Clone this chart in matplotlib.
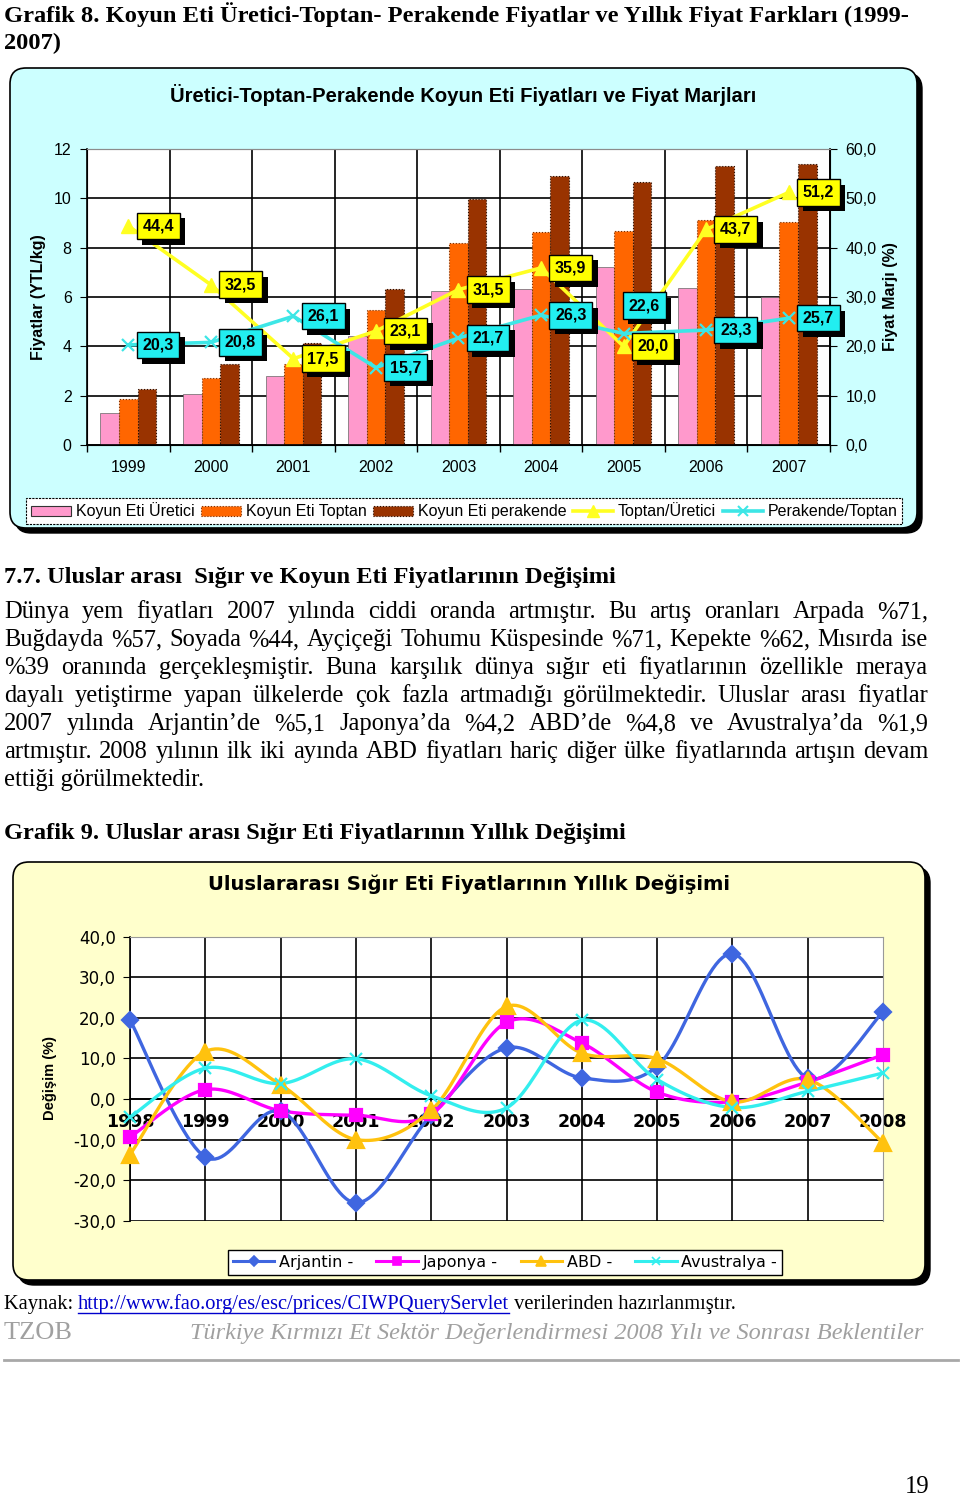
import numpy as np
import matplotlib
matplotlib.use("Agg")
import matplotlib.pyplot as plt
import matplotlib.patheffects as pe
from matplotlib.patches import FancyBboxPatch, Patch
from matplotlib.lines import Line2D
from matplotlib.transforms import offset_copy
from matplotlib.ticker import FuncFormatter

plt.rcParams['font.family'] = ['Liberation Sans', 'DejaVu Sans']

W, H = 960, 1497

# Grafik 8: koyun eti fiyatlari (YTL/kg) ve marjlar (%)
years8 = ["1999", "2000", "2001", "2002", "2003", "2004", "2005", "2006", "2007"]
uretici = [1.30, 2.05, 2.80, 4.42, 6.24, 6.34, 7.23, 6.38, 5.99]
toptan = [1.88, 2.70, 3.29, 5.47, 8.20, 8.63, 8.69, 9.12, 9.03]
perakende = [2.29, 3.27, 4.15, 6.33, 9.96, 10.92, 10.65, 11.31, 11.40]
toptan_uretici = [44.4, 32.5, 17.5, 23.1, 31.5, 35.9, 20.0, 43.7, 51.2]
perakende_toptan = [20.3, 20.8, 26.1, 15.7, 21.7, 26.3, 22.6, 23.3, 25.7]
legend8 = ["Koyun Eti Üretici", "Koyun Eti Toptan", "Koyun Eti perakende",
           "Toptan/Üretici", "Perakende/Toptan"]

# Grafik 9: uluslararasi sigir eti fiyat degisimi (%)
years9 = [1998, 1999, 2000, 2001, 2002, 2003, 2004, 2005, 2006, 2007, 2008]
arjantin = [19.5, -14.3, -3.0, -25.6, -4.0, 12.6, 5.2, 8.0, 35.8, 5.1, 21.4]
japonya = [-9.4, 2.3, -2.9, -4.0, -3.8, 18.9, 13.8, 1.7, -0.7, 4.2, 10.9]
abd = [-13.7, 11.7, 3.5, -10.0, -2.8, 22.8, 11.3, 9.9, -0.7, 4.8, -10.8]
avustralya = [-4.5, 7.6, 3.8, 9.9, 0.8, -2.2, 19.4, 4.8, -2.1, 1.9, 6.4]
legend9 = ["Arjantin -", "Japonya -", "ABD -", "Avustralya -"]

body = [
    "Dünya yem fiyatları 2007 yılında ciddi oranda artmıştır. Bu artış oranları Arpada %71,",
    "Buğdayda %57, Soyada %44, Ayçiçeği Tohumu Küspesinde %71, Kepekte %62, Mısırda ise",
    "%39 oranında gerçekleşmiştir. Buna karşılık dünya sığır eti fiyatlarının özellikle meraya",
    "dayalı yetiştirme yapan ülkelerde çok fazla artmadığı görülmektedir. Uluslar arası fiyatlar",
    "2007 yılında Arjantin’de %5,1 Japonya’da %4,2 ABD’de %4,8 ve Avustralya’da %1,9",
    "artmıştır. 2008 yılının ilk iki ayında ABD fiyatları hariç diğer ülke fiyatlarında artışın devam",
    "ettiği görülmektedir.",
]

fig = plt.figure(figsize=(W / 100, H / 100), dpi=100)
bg = fig.add_axes([0, 0, 1, 1])
bg.set_xlim(0, W)
bg.set_ylim(H, 0)
bg.axis('off')
r = fig.canvas.get_renderer()
SERIF = 'Liberation Serif'


def rect(l, t, rr, b):
    return [l / W, 1 - b / H, (rr - l) / W, (b - t) / H]


def frame(l, t, rr, b, fc):
    style = "round,pad=0,rounding_size=16"
    bg.add_patch(FancyBboxPatch((l + 5, t + 5), rr - l, b - t, boxstyle=style,
                                fc='black', ec='black', lw=1))
    bg.add_patch(FancyBboxPatch((l, t), rr - l, b - t, boxstyle=style,
                                fc=fc, ec='black', lw=1.2))


def fit(x, y, s, width, **kw):
    t = bg.text(x, y, s, fontsize=10, va='center', ha='left', **kw)
    w = t.get_window_extent(r).width
    t.set_fontsize(10 * width / w)
    return t


def justify(y, line, size, x0=4, x1=928):
    words = line.split(' ')
    ts = [bg.text(0, y, w, fontsize=size, family=SERIF, va='center') for w in words]
    ws = [t.get_window_extent(r).width for t in ts]
    gap = (x1 - x0 - sum(ws)) / (len(words) - 1)
    x = x0
    for t, w in zip(ts, ws):
        t.set_x(x)
        x += w + gap


def smooth(xs, ys, n=24):
    p = np.column_stack([xs, ys]).astype(float)
    ext = np.vstack([p[0], p, p[-1]])
    out = []
    t = np.linspace(0, 1, n)[:, None]
    for i in range(len(p) - 1):
        p0, p1, p2, p3 = ext[i], ext[i + 1], ext[i + 2], ext[i + 3]
        c1 = p1 + (p2 - p0) / 6
        c2 = p2 - (p3 - p1) / 6
        seg = (1 - t) ** 3 * p1 + 3 * (1 - t) ** 2 * t * c1 + 3 * (1 - t) * t ** 2 * c2 + t ** 3 * p2
        out.append(seg if i == 0 else seg[1:])
    pts = np.vstack(out)
    return pts[:, 0], pts[:, 1]


comma = FuncFormatter(lambda v, p: f"{v:.1f}".replace('.', ','))

# ---------------- page text ----------------
fit(4, 15, "Grafik 8. Koyun Eti Üretici-Toptan- Perakende Fiyatlar ve Yıllık Fiyat Farkları (1999-",
    908, family=SERIF, weight='bold')
head_size = bg.texts[-1].get_fontsize()
bg.text(4, 43, "2007)", fontsize=head_size, family=SERIF, weight='bold', va='center')

fit(4, 578, "7.7. Uluslar arası  Sığır ve Koyun Eti Fiyatlarının Değişimi", 612,
    family=SERIF, weight='bold')

tmp = fit(4, 780, body[-1], 200, family=SERIF)
body_size = tmp.get_fontsize()
tmp.remove()
for i, line in enumerate(body[:-1]):
    justify(612 + 28 * i, line, body_size)
bg.text(4, 780, body[-1], fontsize=body_size, family=SERIF, va='center')

fit(4, 833, "Grafik 9. Uluslar arası Sığır Eti Fiyatlarının Yıllık Değişimi", 623,
    family=SERIF, weight='bold')

# kaynak line
src = ["Kaynak: ", "http://www.fao.org/es/esc/prices/CIWPQueryServlet", " verilerinden hazırlanmıştır."]
tmp = fit(4, 1304, "".join(src), 731, family=SERIF)
src_size = tmp.get_fontsize()
tmp.remove()
x = 4
for k, s in enumerate(src):
    col = '#0000CC' if k == 1 else 'black'
    t = bg.text(x, 1304, s, fontsize=src_size, family=SERIF, va='center', color=col)
    w = t.get_window_extent(r).width
    if k == 1:
        bg.plot([x, x + w], [1313, 1313], color=col, lw=1)
    x += w

fit(4, 1333, "TZOB", 69, family=SERIF, color='#a0a0a0')
fit(190, 1334, "Türkiye Kırmızı Et Sektör Değerlendirmesi 2008 Yılı ve Sonrası Beklentiler", 735,
    family=SERIF, style='italic', color='#a0a0a0')
bg.plot([4, 958], [1360, 1360], color='#a8a8a8', lw=2)
fit(905, 1487, "19", 25, family=SERIF)

# ---------------- Grafik 8 ----------------
frame(10, 68, 917, 528, '#CCFFFF')
fit(170, 95, "Üretici-Toptan-Perakende Koyun Eti Fiyatları ve Fiyat Marjları", 588, weight='bold')
bg.text(38, 297, "Fiyatlar (YTL/kg)", rotation=90, fontsize=11.5, weight='bold', ha='center', va='center')
bg.text(890, 297, "Fiyat Marjı (%)", rotation=90, fontsize=11.5, weight='bold', ha='center', va='center')

ax = fig.add_axes(rect(87, 149, 830, 445))
ax.set_facecolor('white')
xs = np.arange(len(years8))
bw = 0.225
ax.bar(xs - bw, uretici, bw, color='#FF99CC', edgecolor='#666666', lw=0.5)
ax.bar(xs, toptan, bw, color='#FF6600', edgecolor='#7a2e00', lw=0.8, ls=':')
ax.bar(xs + bw, perakende, bw, color='#993300', edgecolor='#2a0e00', lw=0.8, ls=':')
ax.set_xlim(-0.5, 8.5)
ax.set_ylim(0, 12)
ax.set_yticks(range(0, 13, 2))
ax.set_xticks(np.arange(-0.5, 9, 1))
ax.set_xticklabels([])
ax.set_xticks(xs, minor=True)
ax.set_xticklabels(years8, minor=True)
ax.tick_params(axis='x', which='minor', length=0, pad=11, labelsize=11.5)
ax.tick_params(axis='x', which='major', length=5, width=1)
ax.tick_params(axis='y', length=5, pad=6, labelsize=11.5)
ax.grid(True, which='major', color='black', lw=1.2)
ax.yaxis.get_gridlines()[-1].set_visible(False)
ax.set_axisbelow(True)
for side in ['left', 'bottom']:
    ax.spines[side].set_linewidth(1.2)
ax.spines['top'].set_color('#8c8c8c')

ax2 = ax.twinx()
ax2.set_ylim(0, 60)
ax2.set_yticks(range(0, 61, 10))
ax2.yaxis.set_major_formatter(comma)
ax2.tick_params(axis='y', length=5, pad=6, labelsize=11.5)
ax2.spines['top'].set_color('#8c8c8c')
ax2.spines['right'].set_linewidth(1.2)
ax2.plot(xs, toptan_uretici, color='#FFFF22', lw=2.6, marker='^', ms=10, zorder=3)
ax2.plot(xs, perakende_toptan, color='#3DE6E6', lw=2.6, marker='x', ms=8, mew=1.6, zorder=3)

shadow = [pe.SimplePatchShadow(offset=(4, -4), shadow_rgbFace='black', alpha=1), pe.Normal()]


def tag(axis, x, y, s, fc, dx=0, dy=0):
    tr = offset_copy(axis.transData, fig=fig, x=14 + dx, y=dy, units='dots')
    t = axis.text(x, y, s, transform=tr, ha='left', va='center', fontsize=11.5, weight='bold',
                  color='black', zorder=6,
                  bbox=dict(boxstyle='square,pad=0.36', fc=fc, ec='black', lw=1))
    t.get_bbox_patch().set_path_effects(shadow)


for i, v in enumerate(toptan_uretici):
    tag(ax2, xs[i], v, f"{v:.1f}".replace('.', ','), '#FFFF00')
for i, v in enumerate(perakende_toptan):
    dx, dy = (-9, 28) if i == 6 else (0, 0)
    tag(ax2, xs[i], v, f"{v:.1f}".replace('.', ','), '#22EEF0', dx, dy)

h8 = [Patch(fc='#FF99CC', ec='#333333', lw=0.8),
      Patch(fc='#FF6600', ec='#7a2e00', lw=0.8, ls=':'),
      Patch(fc='#993300', ec='#2a0e00', lw=0.8, ls=':'),
      Line2D([], [], color='#FFFF22', lw=2.6, marker='^', ms=9),
      Line2D([], [], color='#3DE6E6', lw=2.6, marker='x', ms=7, mew=1.5)]
leg = ax.legend(h8, legend8, loc='center', bbox_to_anchor=tuple(rect(18, 498, 910, 524)),
                bbox_transform=fig.transFigure, mode='expand', ncol=5, fontsize=11.5,
                fancybox=False, edgecolor='black', framealpha=1, borderpad=0.3,
                handlelength=2.5, handleheight=0.6, handletextpad=0.3, columnspacing=0.5)
leg.get_frame().set_linestyle((0, (2, 1)))
leg.get_frame().set_linewidth(0.8)

# ---------------- Grafik 9 ----------------
frame(13, 862, 925, 1280, '#FFFFCC')
fit(208, 884, "Uluslararası Sığır Eti Fiyatlarının Yıllık Değişimi", 522,
    family='DejaVu Sans', weight='bold')
bg.text(50, 1078, "Değişim (%)", rotation=90, fontsize=10.5, weight='bold', ha='center', va='center')

bx = fig.add_axes(rect(130, 936.7, 883, 1220.7))
bx.set_facecolor('white')
bx.spines['bottom'].set_position(('data', 0))
bx.spines['bottom'].set_linewidth(1.2)
bx.spines['left'].set_linewidth(1.2)
bx.spines['top'].set_color('#999999')
bx.spines['right'].set_color('#999999')
bx.set_xlim(1998, 2008)
bx.set_ylim(-30, 40)
bx.set_xticks(years9)
bx.set_yticks(range(-30, 41, 10))
bx.yaxis.set_major_formatter(comma)
bx.tick_params(axis='x', length=0, pad=10, labelsize=12.5)
bx.tick_params(axis='y', length=5, pad=5, labelsize=12)
bx.set_xticklabels([str(y) for y in years9], family='DejaVu Sans', weight='bold', fontsize=12.5)
for lab in bx.get_yticklabels():
    lab.set_family('DejaVu Sans')
bx.grid(True, color='black', lw=1.2)
bx.yaxis.get_gridlines()[-1].set_visible(False)
bx.xaxis.get_gridlines()[-1].set_visible(False)
bx.set_axisbelow(True)

series9 = [(arjantin, '#3F66E0', 'D', 8), (japonya, '#FF00FF', 's', 9),
           (abd, '#FFC20E', '^', 11), (avustralya, '#33EEEE', 'x', 9)]
h9 = []
for k, (vals, col, mk, ms) in enumerate(series9):
    sx, sy = smooth(years9, vals)
    bx.plot(sx, sy, color=col, lw=2.4, zorder=3 + k * 0.1)
    bx.plot(years9, vals, ls='none', marker=mk, ms=ms, color=col, mew=1.6, zorder=4 + k * 0.1,
            clip_on=False)
    h9.append(Line2D([], [], color=col, lw=2.2, marker=mk, ms=ms * 0.6, mew=1.2))

leg2 = bx.legend(h9, legend9, loc='center', bbox_to_anchor=tuple(rect(220, 1248, 790, 1277)),
                 bbox_transform=fig.transFigure, mode='expand', ncol=4,
                 prop={'family': 'DejaVu Sans', 'size': 11.5},
                 fancybox=False, edgecolor='black', framealpha=1, borderpad=0.3,
                 handlelength=2.6, handletextpad=0.3, columnspacing=0.6)
leg2.get_frame().set_linewidth(1)

fig.savefig("out.png", dpi=100, facecolor='white')
